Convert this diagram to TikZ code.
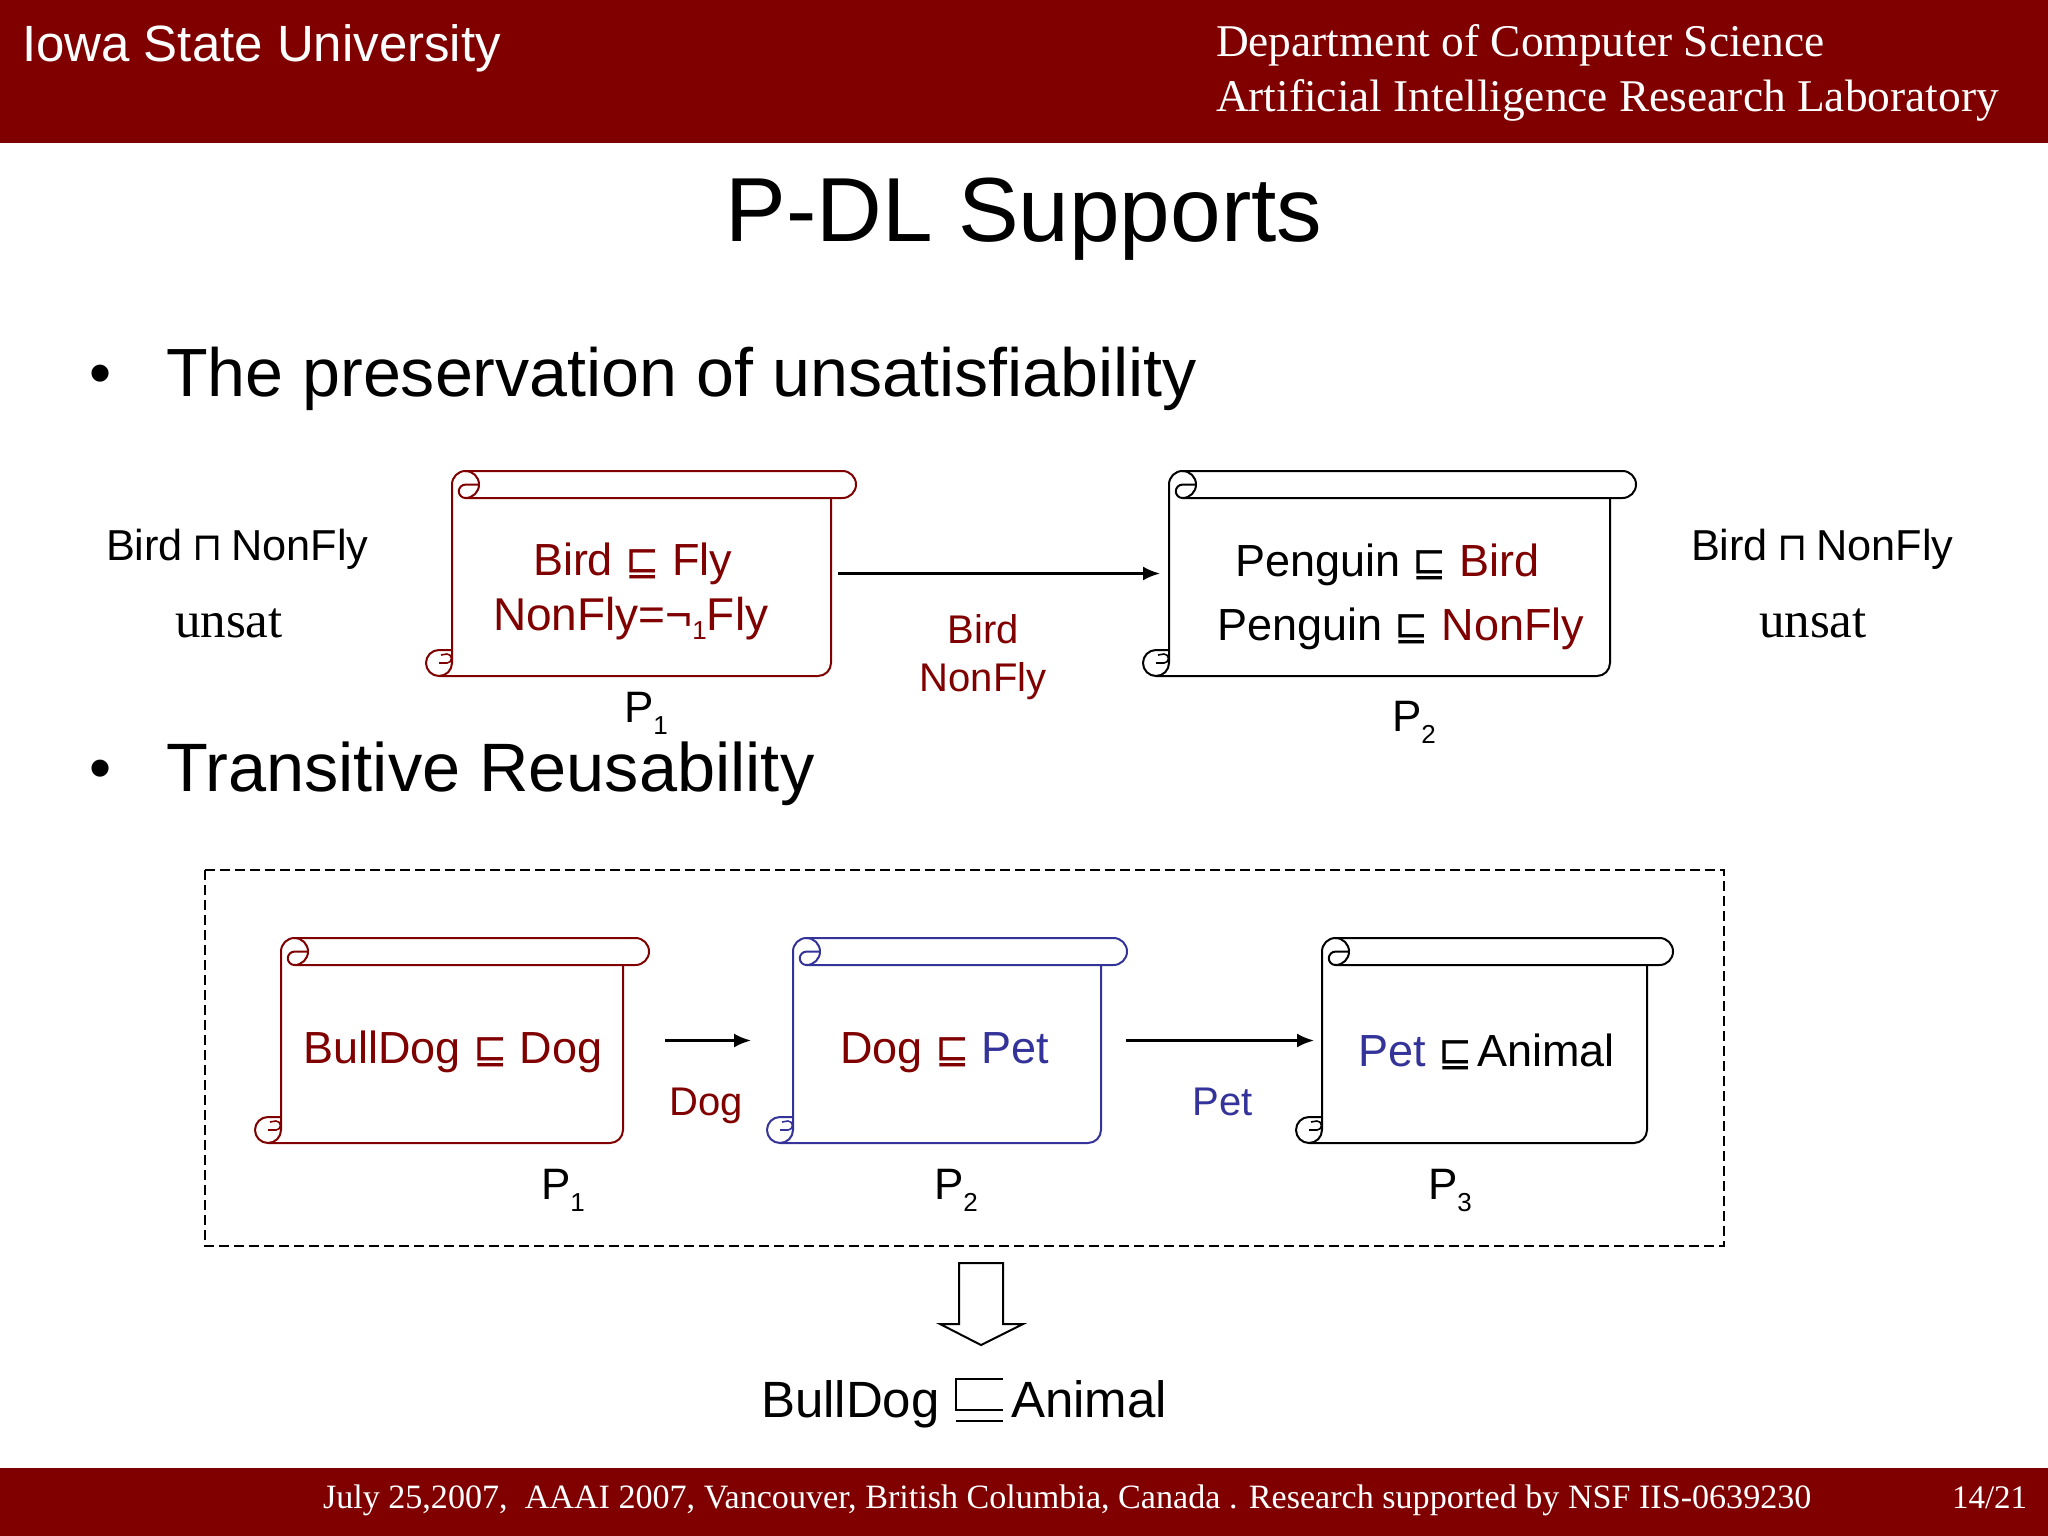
\documentclass[tikz,border=0pt]{standalone}
\usepackage{fontspec}
\setmainfont{Liberation Sans}
\newfontfamily\serf{Liberation Serif}
\newfontfamily\symf{DejaVu Sans}
\usetikzlibrary{arrows.meta}
\definecolor{isured}{HTML}{800000}
\definecolor{petblue}{HTML}{333399}
\newcommand{\fs}[1]{\fontsize{#1}{#1}\selectfont}
\newcommand{\Psub}[1]{P\raisebox{-12pt}{\fs{26}#1}}
\newcommand{\sqle}{{\symf\fs{41}\raisebox{0pt}{⊑}}}
\newcommand{\sqand}{{\symf\fs{39}\kern-3pt⊓\kern-3pt}}
\newcommand{\R}[1]{\textcolor{isured}{#1}}
\newcommand{\B}[1]{\textcolor{petblue}{#1}}
% name, L, T, R, BarR, B, colour
\newcommand{\scrollbox}[7]{%
  \draw[scrollline,draw=#7]
    (#2,#6-13) -- (#2,#3+13.5) arc (180:270:13.5) -- (#5-13.5,#3) arc (270:450:13.5) -- (#2+13.5,#3+27)
    arc (90:180:6.7) arc (180:270:6.7) -- (#2+27,#3+13.5);
  \draw[scrollline,draw=#7]
    (#2+13.5,#3) arc (270:450:13.5);
  \draw[scrollline,draw=#7]
    (#4,#3+27) -- (#4,#6-13) arc (0:90:13) -- (#2-13,#6) arc (90:270:13) -- (#2,#6-26);
  \draw[scrollline,draw=#7]
    (#2-13,#6) arc (90:0:13);
  \draw[scrollline,draw=#7,line width=1.6pt]
    (#2-13,#6-13) -- (#2-5,#6-13) arc (90:-90:4.5) -- (#2-11,#6-21);
  \node[bodybox,minimum width={(#4-#2)*1pt},minimum height={(#6-#3)*1pt}] (#1) at ({(#2+#4)/2},{(#3+#6)/2}) {};
}
\tikzset{
  scrollline/.style={line width=2pt,line join=round},
  bodybox/.style={inner sep=0pt,outer sep=0pt},
  txt/.style={inner sep=0pt,outer sep=0pt,anchor=base west},
  ctxt/.style={inner sep=0pt,outer sep=0pt,anchor=base},
  arr/.style={line width=2.4pt,-{Latex[length=17pt,width=14pt]}},
  band/.style={fill=isured,draw=none}
}
\begin{document}
\begin{tikzpicture}[x=1pt,y=-1pt]
\useasboundingbox (0,0) rectangle (2048,1536);
\fill[white] (0,0) rectangle (2048,1536);
\fill[band] (0,0) rectangle (2048,143);
\fill[band] (0,1468) rectangle (2048,1536);
\node[txt,text=white,font=\fs{51}] (isu) at (22,62) {Iowa State University};
\node[txt,text=white,font=\serf\fs{45.4}] (dept) at (1216,57) {Department of Computer Science};
\node[txt,text=white,font=\serf\fs{45.4}] (lab) at (1216,112) {Artificial Intelligence Research Laboratory};
\node[ctxt,font=\fs{91}] (title) at (1024,241) {P-DL Supports};
\node[ctxt,font=\fs{63}] (b1) at (101,394) {•};
\node[txt,font=\fs{68.2}] (t1) at (166,396) {The preservation of unsatisfiability};
\node[ctxt,font=\fs{63}] (b2) at (101,789) {•};
\node[txt,font=\fs{68.5}] (t2) at (166,791) {Transitive Reusability};

\node[txt,font=\fs{43.3}] (la) at (106,560) {Bird \sqand{} NonFly};
\node[txt,font=\serf\fs{51}] (lb) at (175,637) {unsat};
\node[txt,font=\fs{43.3}] (ra) at (1691,560) {Bird \sqand{} NonFly};
\node[txt,font=\serf\fs{51}] (rb) at (1759,637) {unsat};

\scrollbox{s1}{452}{471}{831}{856}{676}{isured}
\scrollbox{s2}{1169}{471}{1610}{1636}{676}{black}
\node[txt,font=\fs{45},text=isured] (a1) at (533,575.5) {Bird \sqle{} Fly};
\node[txt,font=\fs{46},text=isured] (a2) at (493,630) {NonFly=¬\raisebox{-9pt}{\fs{26}1}Fly};
\node[txt,font=\fs{45}] (a3) at (1235,576) {Penguin \sqle{} \R{Bird}};
\node[txt,font=\fs{45}] (a4) at (1217,640) {Penguin \sqle{} \R{NonFly}};
\node[txt,font=\fs{44}] (p1a) at (624,722) {\Psub{1}};
\node[txt,font=\fs{44}] (p2a) at (1392,731) {\Psub{2}};
\node[ctxt,font=\fs{40},text=isured] (l1) at (983,643) {Bird};
\node[ctxt,font=\fs{40},text=isured] (l2) at (983,691) {NonFly};
\draw[arr,shorten <=7pt,shorten >=9pt] (s1.east) -- (s2.west);

\draw[line width=2pt,dash pattern=on 10pt off 5pt] (205,870) rectangle (1724,1246);
\scrollbox{s3}{281}{938}{623}{649}{1143}{isured}
\scrollbox{s4}{793}{938}{1101}{1127}{1143}{petblue}
\scrollbox{s5}{1322}{938}{1647}{1673}{1143}{black}
\node[txt,font=\fs{45}] (c1) at (303,1063) {\R{BullDog} \textcolor{isured}{\sqle{}} \R{Dog}};
\node[txt,font=\fs{45}] (c2) at (840,1063) {\R{Dog} \textcolor{isured}{\sqle{}} \B{Pet}};
\node[txt,font=\fs{45}] (c3) at (1358,1066) {\B{Pet} \sqle{}\kern5pt Animal};
\draw[arr,shorten <=42pt,shorten >=42pt] (s3.east) -- (s4.west);
\draw[arr,shorten <=25pt,shorten >=8pt] (s4.east) -- (s5.west);
\node[ctxt,font=\fs{40},text=isured] (dogl) at (706,1115) {Dog};
\node[ctxt,font=\fs{40},text=petblue] (petl) at (1223,1115) {Pet};
\node[txt,font=\fs{44}] (p1b) at (541,1199) {\Psub{1}};
\node[txt,font=\fs{44}] (p2b) at (934,1199) {\Psub{2}};
\node[txt,font=\fs{44}] (p3b) at (1428,1199) {\Psub{3}};

\draw[line width=2pt,line join=miter,fill=white] (959,1263) -- (1003,1263) -- (1003,1324) -- (1023,1324) -- (981,1345) -- (940,1324) -- (959,1324) -- cycle;
\node[txt,font=\fs{51}] (f1) at (761,1417) {BullDog};
\node[txt,font=\fs{51}] (f3) at (1011,1417) {Animal};
\draw[line width=2.4pt] (1003,1379) -- (956,1379) -- (956,1410) -- (1003,1410) (956,1421) -- (1003,1421);

\node[txt,text=white,font=\serf\fs{34.1}] (foot) at (323,1508) {July 25,2007,\ \ AAAI 2007, Vancouver, British Columbia, Canada . Research supported by NSF IIS-0639230};
\node[txt,text=white,font=\serf\fs{33}] (page) at (1952,1508) {14/21};
\end{tikzpicture}
\end{document}
